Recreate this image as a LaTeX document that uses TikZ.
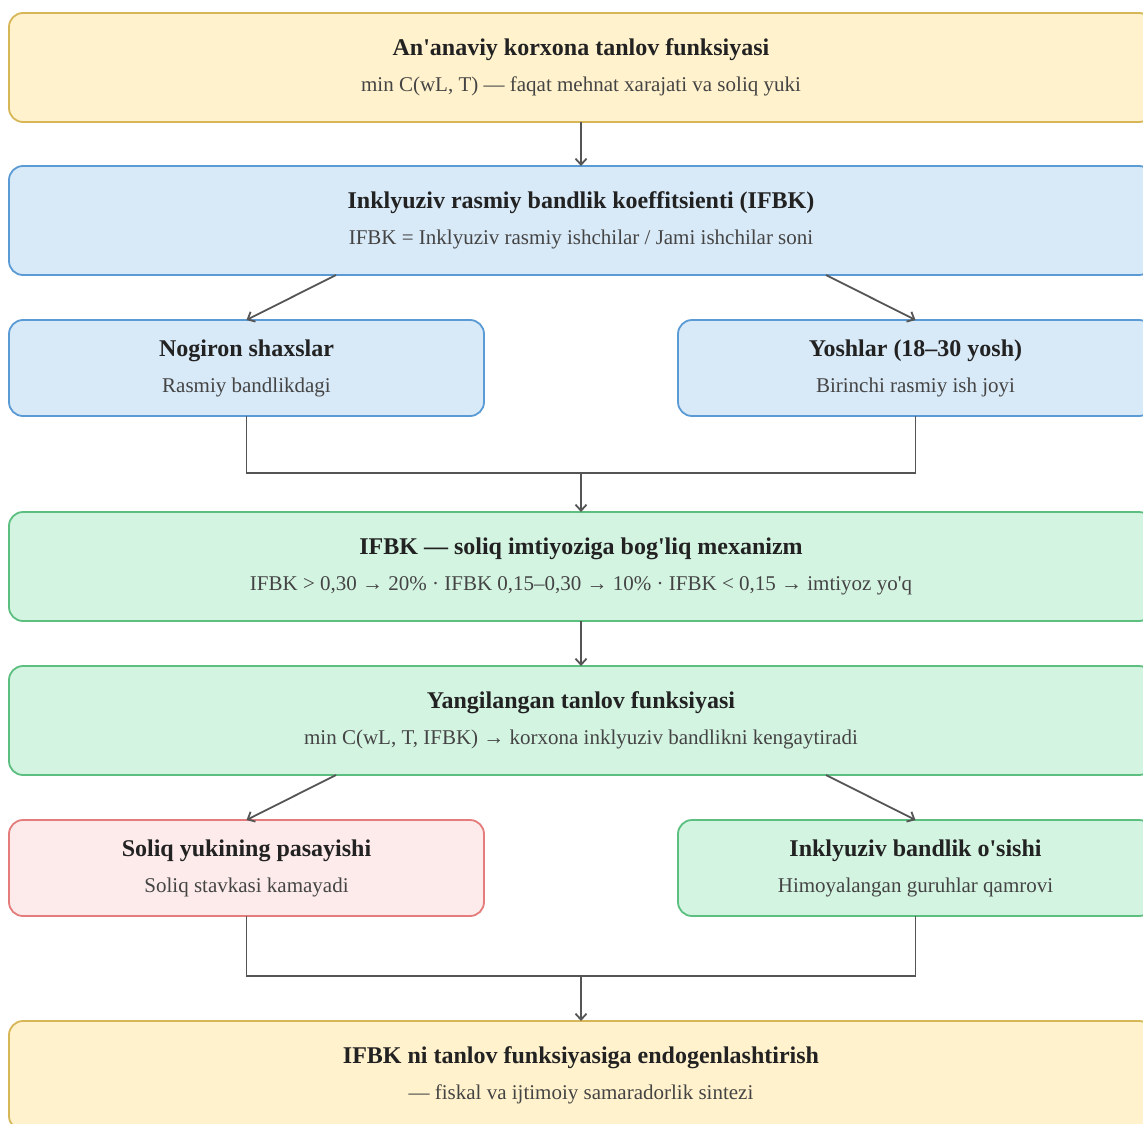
\documentclass[tikz,border=0pt]{standalone}
\usepackage{fontspec}
\setmainfont{Liberation Serif}
\usetikzlibrary{arrows.meta,positioning,calc}

\definecolor{ylwfill}{HTML}{FFF2CC}
\definecolor{ylwdraw}{HTML}{D6B656}
\definecolor{bluefill}{HTML}{D8E9F7}
\definecolor{bluedraw}{HTML}{5B9BD5}
\definecolor{grnfill}{HTML}{D4F4E2}
\definecolor{grndraw}{HTML}{5CBF80}
\definecolor{redfill}{HTML}{FDEBEB}
\definecolor{reddraw}{HTML}{E57C7C}
\definecolor{linegray}{HTML}{555555}
\definecolor{titleink}{HTML}{222222}
\definecolor{subink}{HTML}{444444}

\newcommand{\ttl}[1]{{\fontsize{24}{36}\selectfont\bfseries\color{titleink}#1}}
\newcommand{\sbt}[1]{{\color{subink}#1}}
\newcommand{\apo}{\textquotesingle}

\tikzset{
  >={Straight Barb[length=6pt,width=11pt]},
  every node/.append style={font=\fontsize{21}{36}\selectfont},
}
\tikzset{
  widebox/.style={draw, rounded corners=14pt, line width=1.8pt, align=center,
    minimum width=1144pt, minimum height=109pt, inner sep=0pt, outer sep=0pt},
  smallbox/.style={widebox, minimum width=475pt, minimum height=96pt},
  yellow/.style={fill=ylwfill, draw=ylwdraw},
  blue/.style={fill=bluefill, draw=bluedraw},
  green/.style={fill=grnfill, draw=grndraw},
  red/.style={fill=redfill, draw=reddraw},
  arrow/.style={->, line width=1.8pt, draw=linegray},
  link/.style={line width=1.8pt, draw=linegray}
}

\begin{document}
\begin{tikzpicture}[x=1pt,y=-1pt]

\clip (0,0) rectangle (1143,1124);

% ---- Main column ----
\node[widebox, yellow] (trad) at (581,67.5)
  {\ttl{An\apo anaviy korxona tanlov funksiyasi}\\
   \sbt{min C(wL, T) — faqat mehnat xarajati va soliq yuki}};
\node[widebox, blue, below=44pt of trad] (ifbk)
  {\ttl{Inklyuziv rasmiy bandlik koeffitsienti (IFBK)}\\
   \sbt{IFBK = Inklyuziv rasmiy ishchilar / Jami ishchilar soni}};

% ---- Target groups ----
\node[smallbox, blue, below=45pt of ifbk.south west, anchor=north west] (nogiron)
  {\ttl{Nogiron shaxslar}\\ \sbt{Rasmiy bandlikdagi}};
\node[smallbox, blue, below=45pt of ifbk.south east, anchor=north east] (yoshlar)
  {\ttl{Yoshlar (18–30 yosh)}\\ \sbt{Birinchi rasmiy ish joyi}};

% ---- Mechanism ----
\node[widebox, green, below=237pt of ifbk] (mech)
  {\ttl{IFBK — soliq imtiyoziga bog\apo liq mexanizm}\\
   \sbt{IFBK > 0,30 → 20\% · IFBK 0,15–0,30 → 10\% · IFBK < 0,15 → imtiyoz yo\apo q}};
\node[widebox, green, below=45pt of mech] (newfn)
  {\ttl{Yangilangan tanlov funksiyasi}\\
   \sbt{min C(wL, T, IFBK) → korxona inklyuziv bandlikni kengaytiradi}};

% ---- Effects ----
\node[smallbox, red, below=45pt of newfn.south west, anchor=north west] (tax)
  {\ttl{Soliq yukining pasayishi}\\ \sbt{Soliq stavkasi kamayadi}};
\node[smallbox, green, below=45pt of newfn.south east, anchor=north east] (growth)
  {\ttl{Inklyuziv bandlik o\apo sishi}\\ \sbt{Himoyalangan guruhlar qamrovi}};

% ---- Synthesis ----
\node[widebox, yellow, below=246pt of newfn] (synth)
  {\ttl{IFBK ni tanlov funksiyasiga endogenlashtirish}\\
   \sbt{— fiskal va ijtimoiy samaradorlik sintezi}};

% ---- Flow ----
\draw[arrow] (trad) -- (ifbk);
\draw[arrow] ([xshift=-245pt]ifbk.south) -- (nogiron.north);
\draw[arrow] ([xshift=245pt]ifbk.south) -- (yoshlar.north);

\coordinate (j1) at ($(nogiron.south)!0.5!(yoshlar.south)+(0,57)$);
\draw[link] (nogiron.south) |- (j1) -| (yoshlar.south);
\draw[arrow] (j1) -- (mech.north);

\draw[arrow] (mech) -- (newfn);
\draw[arrow] ([xshift=-245pt]newfn.south) -- (tax.north);
\draw[arrow] ([xshift=245pt]newfn.south) -- (growth.north);

\coordinate (j2) at ($(tax.south)!0.5!(growth.south)+(0,60)$);
\draw[link] (tax.south) |- (j2) -| (growth.south);
\draw[arrow] (j2) -- (synth.north);

\end{tikzpicture}
\end{document}
